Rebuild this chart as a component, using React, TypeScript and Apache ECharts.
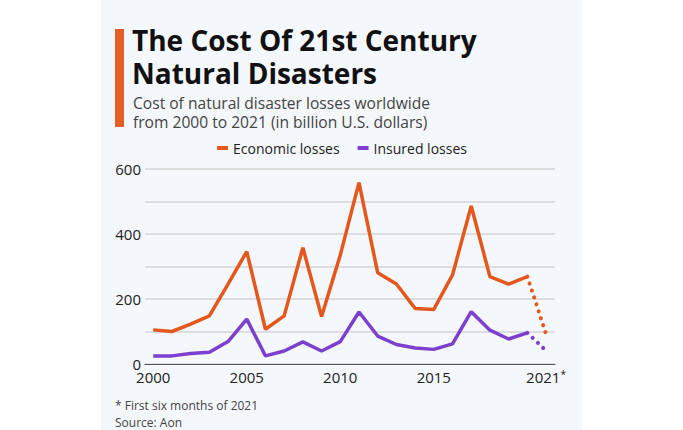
import React, { useEffect, useRef } from "react";
import * as echarts from "echarts";

const years = [2000, 2001, 2002, 2003, 2004, 2005, 2006, 2007, 2008, 2009, 2010, 2011, 2012, 2013, 2014, 2015, 2016, 2017, 2018, 2019, 2020, 2021];
const economicLosses = [105, 100, 123, 148, 246, 346, 107, 148, 358, 146, 335, 558, 281, 246, 171, 168, 274, 486, 269, 246, 269, 92];
const insuredLosses = [25, 25, 32, 36, 69, 138, 25, 40, 68, 40, 69, 160, 86, 60, 49, 45, 62, 161, 104, 77, 96, 41];
const xTickLabels = [2000, 2005, 2010, 2015, 2021];
const seriesNames = ["Economic losses", "Insured losses"];

const ORANGE = "#e4571d";
const PURPLE = "#7d3fce";
const FONT = "'Open Sans', 'Noto Sans', sans-serif";

export default function App() {
  const ref = useRef<HTMLDivElement>(null);
  useEffect(() => {
    document.body.style.margin = "0";
    const chart = echarts.init(ref.current!, undefined, { renderer: "svg" });
    const n = years.length;
    const solid = (vals: number[]) => years.slice(0, n - 1).map((y, i) => [y, vals[i]]);
    const dotted = (vals: number[]) => [[years[n - 2], vals[n - 2]], [years[n - 1], vals[n - 1]]];
    const dotStyle = (c: string) => ({ color: c, width: 4, type: [0.1, 7.2], cap: "round" as const });
    const txt = (text: string, left: number, top: number, font: string, lh: number, fill: string) => ({
      type: "text", left, top, style: { text, font, lineHeight: lh, fill },
    });
    chart.setOption({
      animation: false,
      backgroundColor: "#ffffff",
      textStyle: { fontFamily: FONT },
      graphic: [
        { type: "rect", left: 101, top: 0, shape: { width: 481, height: 430 }, style: { fill: "#f4f7fb" }, z: -10 },
        { type: "rect", left: 115, top: 29, shape: { width: 9, height: 98 }, style: { fill: "#e35f26" } },
        txt("The Cost Of 21st Century", 132, 24, `bold 28px ${FONT}`, 31, "#111111"),
        txt("Natural Disasters", 132, 57, `bold 28px ${FONT}`, 31, "#111111"),
        txt("Cost of natural disaster losses worldwide", 133, 94, `15.6px ${FONT}`, 18, "#444444"),
        txt("from 2000 to 2021 (in billion U.S. dollars)", 133, 113, `15.6px ${FONT}`, 18, "#444444"),
        txt("* First six months of 2021", 115, 398, `12px ${FONT}`, 15, "#444444"),
        txt("Source: Aon", 115, 414.5, `12px ${FONT}`, 15, "#444444"),
      ],
      legend: {
        data: seriesNames,
        left: 217,
        top: 141,
        padding: 0,
        icon: "rect",
        itemWidth: 11,
        itemHeight: 4,
        itemGap: 18,
        textStyle: { fontSize: 14, color: "#222222", fontFamily: FONT },
      },
      grid: { left: 145, right: 128, top: 169, bottom: 66, containLabel: false },
      xAxis: {
        type: "value",
        min: 1999.56,
        max: 2021.48,
        splitLine: { show: false },
        axisTick: { show: false },
        axisLine: { show: true, onZero: false, lineStyle: { color: "#555555", width: 1 } },
        axisLabel: {
          customValues: xTickLabels,
          margin: 5,
          fontSize: 15,
          lineHeight: 15,
          color: "#222222",
          fontFamily: FONT,
          formatter: (v: number) => (v === 2021 ? "2021{s|*}" : String(v)),
          rich: { s: { fontSize: 10, verticalAlign: "top", color: "#222222", padding: [0, 0, 6, 0] } },
        },
      },
      yAxis: {
        type: "value",
        min: 0,
        max: 600,
        interval: 100,
        axisLine: { show: false },
        axisTick: { show: false },
        splitLine: { lineStyle: { color: "#d4d4d4", width: 1.5 } },
        axisLabel: {
          margin: 4,
          fontSize: 15,
          lineHeight: 14,
          color: "#222222",
          fontFamily: FONT,
          formatter: (v: number) => (v % 200 === 0 ? String(v) : ""),
        },
      },
      series: [
        { name: seriesNames[0], type: "line", data: solid(economicLosses), symbol: "none", color: ORANGE, lineStyle: { color: ORANGE, width: 3.5 }, z: 3 },
        { name: seriesNames[1], type: "line", data: solid(insuredLosses), symbol: "none", color: PURPLE, lineStyle: { color: PURPLE, width: 3.5 }, z: 3 },
        { name: "Economic 2021", type: "line", data: dotted(economicLosses), symbol: "none", color: ORANGE, lineStyle: dotStyle(ORANGE), z: 3 },
        { name: "Insured 2021", type: "line", data: dotted(insuredLosses), symbol: "none", color: PURPLE, lineStyle: dotStyle(PURPLE), z: 3 },
      ],
    });
    return () => chart.dispose();
  }, []);
  return <div ref={ref} style={{ width: 683, height: 430, position: "absolute", left: 0, top: 0 }} />;
}
